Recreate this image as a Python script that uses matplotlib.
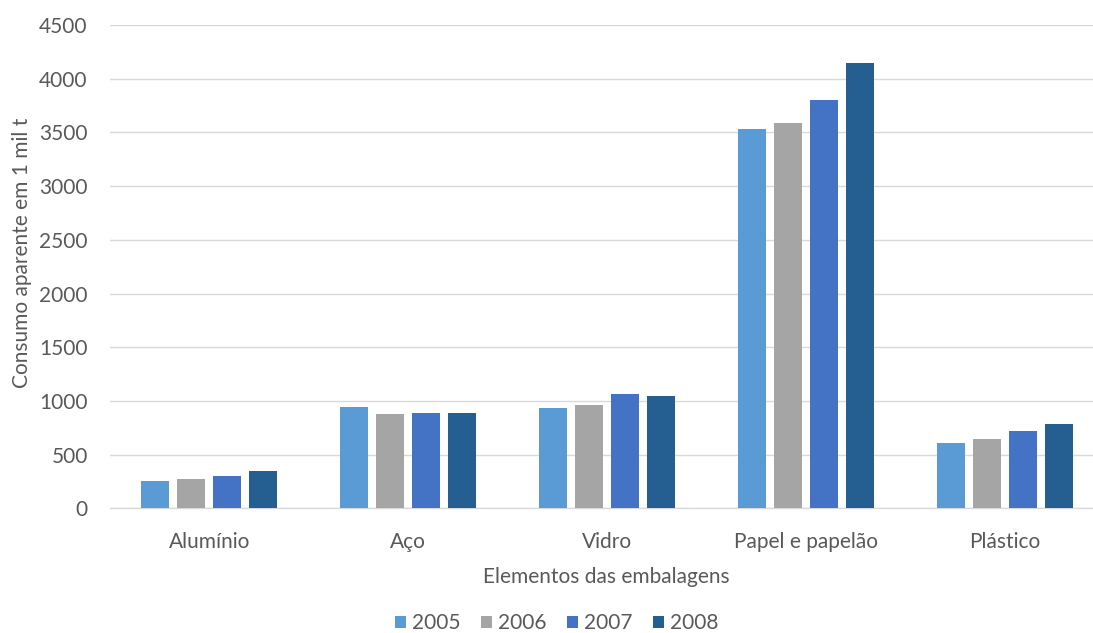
import numpy as np
import matplotlib
matplotlib.use("Agg")
import matplotlib.pyplot as plt
from matplotlib.patches import Patch

# --- Data ---
categories = ["Alumínio", "Aço", "Vidro", "Papel e papelão", "Plástico"]
years = ["2005", "2006", "2007", "2008"]
values_2005 = [251, 940, 937, 3531, 605]
values_2006 = [273, 878, 959, 3584, 645]
values_2007 = [301, 885, 1064, 3805, 719]
values_2008 = [344, 885, 1043, 4149, 782]
y_ticks = [0, 500, 1000, 1500, 2000, 2500, 3000, 3500, 4000, 4500]

series = [values_2005, values_2006, values_2007, values_2008]
colors = ["#5B9BD5", "#A5A5A5", "#4472C4", "#255E91"]
text_color = "#595959"

plt.rcParams['font.family'] = ['Lato', 'DejaVu Sans']

W, H = 1093, 633
fig = plt.figure(figsize=(W / 100, H / 100), dpi=100)

# plot area in pixels (the original picture is cropped on the right and top)
left, right, top, bottom = 110, 1104.5, 25, 508.3
ax = fig.add_axes([left / W, 1 - bottom / H, (right - left) / W, (bottom - top) / H])

x = np.arange(len(categories))
step = 0.181
width = 0.141
for i, vals in enumerate(series):
    ax.bar(x + (i - 1.5) * step, vals, width=width, color=colors[i], label=years[i], zorder=3)

ax.set_xlim(-0.5, len(categories) - 0.5)
ax.set_ylim(0, 4500)
ax.set_yticks(y_ticks)
ax.set_xticks(x)
ax.set_xticklabels(categories)

ax.grid(axis="y", color="#D9D9D9", linewidth=1.0, zorder=0)
for s in ["top", "right", "left"]:
    ax.spines[s].set_visible(False)
ax.spines["bottom"].set_color("#D9D9D9")
ax.spines["bottom"].set_linewidth(1.0)

ax.tick_params(axis="y", length=0, pad=16, labelsize=15, labelcolor=text_color)
ax.tick_params(axis="x", length=0, pad=17, labelsize=15, labelcolor=text_color)

# axis titles
ax.set_ylabel("Consumo aparente em 1 mil t", fontsize=15, color=text_color)
ax.yaxis.set_label_coords((22 - left) / (right - left), (bottom - 253) / (bottom - top))
ax.yaxis.label.set_va("center")
ax.set_xlabel("Elementos das embalagens", fontsize=15, color=text_color)
ax.xaxis.set_label_coords((606 - left) / (right - left), (bottom - 577) / (bottom - top))
ax.xaxis.label.set_va("center")

# legend
handles = [Patch(facecolor=c, edgecolor="none", label=y) for c, y in zip(colors, years)]
leg = fig.legend(handles=handles, loc="center", bbox_to_anchor=(557 / W, 1 - 623 / H),
                 ncol=4, frameon=False, fontsize=15, handlelength=0.5, handleheight=0.5,
                 handletextpad=0.3, columnspacing=1.0, borderaxespad=0)
for t in leg.get_texts():
    t.set_color(text_color)

fig.savefig("out.png", dpi=100)
